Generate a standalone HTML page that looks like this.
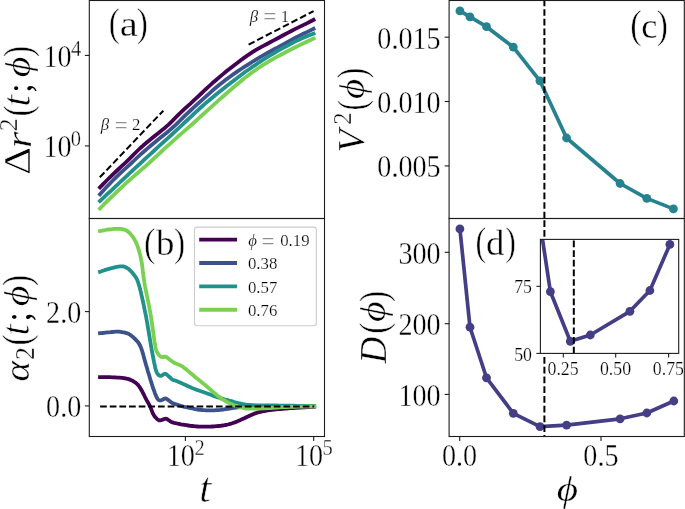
<!DOCTYPE html>
<html lang="en">
<head>
<meta charset="utf-8">
<title>Mean-squared displacement, non-Gaussian parameter, velocity variance and diffusion coefficient</title>
<style>
html,body{margin:0;padding:0;background:#fff;}
body{width:685px;height:509px;overflow:hidden;}
svg{display:block;}
svg text{font-family:"Liberation Serif","DejaVu Serif",serif;fill:#000;white-space:pre;}
svg text.b{stroke:#fff;stroke-width:0.35px;}
svg text.s{stroke:#fff;stroke-width:0.20px;}
</style>
</head>
<body>
<svg width="685" height="509" viewBox="0 0 685 509">
<rect width="685" height="509" fill="#fff"/>
<!-- panel (a): mean-squared displacement -->
<g stroke-linecap="square" stroke-linejoin="round">
<path d="M100.0,187.4 L103.6,183.6 L107.2,180.0 L110.9,176.4 L114.5,172.9 L118.1,169.5 L121.7,166.2 L125.3,162.9 L128.9,159.4 L132.6,155.7 L136.2,152.0 L139.8,148.5 L143.4,145.3 L147.0,142.3 L150.7,139.3 L154.3,136.3 L157.9,133.4 L161.5,130.6 L165.1,127.7 L168.8,124.4 L172.4,120.8 L176.0,117.2 L179.6,113.6 L183.2,110.2 L186.8,106.9 L190.5,103.6 L194.1,100.2 L197.7,96.9 L201.3,93.5 L204.9,90.0 L208.6,86.6 L212.2,83.3 L215.8,80.2 L219.4,77.1 L223.0,74.1 L226.7,71.1 L230.3,68.2 L233.9,65.4 L237.5,62.7 L241.1,60.0 L244.7,57.4 L248.4,54.8 L252.0,52.4 L255.6,50.2 L259.2,48.1 L262.8,46.1 L266.5,44.2 L270.1,42.3 L273.7,40.4 L277.3,38.5 L280.9,36.5 L284.6,34.5 L288.2,32.6 L291.8,30.7 L295.4,28.9 L299.0,27.1 L302.6,25.4 L306.3,23.6 L309.9,21.8 L313.5,19.9" fill="none" stroke="#440154" stroke-width="3.80" />
<path d="M100.0,194.3 L103.6,190.2 L107.2,186.3 L110.9,182.5 L114.5,178.8 L118.1,175.3 L121.7,171.9 L125.3,168.6 L128.9,165.4 L132.6,162.0 L136.2,158.5 L139.8,155.1 L143.4,152.0 L147.0,148.9 L150.7,145.8 L154.3,142.8 L157.9,139.7 L161.5,136.8 L165.1,133.9 L168.8,130.9 L172.4,127.8 L176.0,124.6 L179.6,121.0 L183.2,117.4 L186.8,113.9 L190.5,110.5 L194.1,107.2 L197.7,103.9 L201.3,100.7 L204.9,97.4 L208.6,94.1 L212.2,90.8 L215.8,87.7 L219.4,84.7 L223.0,81.9 L226.7,79.1 L230.3,76.5 L233.9,73.9 L237.5,71.4 L241.1,69.0 L244.7,66.6 L248.4,64.3 L252.0,62.0 L255.6,59.8 L259.2,57.7 L262.8,55.6 L266.5,53.5 L270.1,51.5 L273.7,49.5 L277.3,47.6 L280.9,45.6 L284.6,43.7 L288.2,41.7 L291.8,39.7 L295.4,37.8 L299.0,35.9 L302.6,34.1 L306.3,32.4 L309.9,30.6 L313.5,28.8" fill="none" stroke="#3b528b" stroke-width="3.80" />
<path d="M100.0,201.0 L103.6,197.6 L107.2,194.2 L110.9,190.8 L114.5,187.4 L118.1,184.1 L121.7,180.7 L125.3,177.3 L128.9,173.9 L132.6,170.5 L136.2,167.2 L139.8,163.8 L143.4,160.5 L147.0,157.2 L150.7,153.8 L154.3,150.5 L157.9,147.2 L161.5,143.9 L165.1,140.6 L168.8,137.3 L172.4,134.0 L176.0,130.7 L179.6,127.3 L183.2,123.9 L186.8,120.5 L190.5,117.1 L194.1,113.7 L197.7,110.3 L201.3,107.0 L204.9,103.8 L208.6,100.8 L212.2,97.7 L215.8,94.7 L219.4,91.8 L223.0,88.9 L226.7,86.0 L230.3,83.2 L233.9,80.4 L237.5,77.7 L241.1,75.0 L244.7,72.3 L248.4,69.8 L252.0,67.2 L255.6,64.8 L259.2,62.3 L262.8,60.0 L266.5,57.7 L270.1,55.5 L273.7,53.3 L277.3,51.2 L280.9,49.2 L284.6,47.1 L288.2,45.2 L291.8,43.2 L295.4,41.4 L299.0,39.7 L302.6,38.1 L306.3,36.5 L309.9,35.1 L313.5,33.7" fill="none" stroke="#21918c" stroke-width="3.80" />
<path d="M100.0,208.5 L103.6,204.8 L107.2,201.2 L110.9,197.7 L114.5,194.2 L118.1,190.7 L121.7,187.3 L125.3,183.9 L128.9,180.6 L132.6,177.3 L136.2,174.2 L139.8,171.1 L143.4,168.0 L147.0,164.8 L150.7,161.5 L154.3,158.2 L157.9,154.9 L161.5,151.5 L165.1,148.2 L168.8,144.8 L172.4,141.6 L176.0,138.4 L179.6,135.2 L183.2,132.1 L186.8,128.9 L190.5,125.7 L194.1,122.5 L197.7,119.2 L201.3,116.0 L204.9,112.7 L208.6,109.4 L212.2,106.2 L215.8,102.9 L219.4,99.7 L223.0,96.5 L226.7,93.3 L230.3,90.1 L233.9,87.0 L237.5,84.0 L241.1,81.0 L244.7,78.1 L248.4,75.3 L252.0,72.6 L255.6,70.0 L259.2,67.5 L262.8,65.1 L266.5,62.9 L270.1,60.7 L273.7,58.6 L277.3,56.6 L280.9,54.7 L284.6,52.8 L288.2,50.9 L291.8,49.0 L295.4,47.2 L299.0,45.4 L302.6,43.7 L306.3,42.0 L309.9,40.3 L313.5,38.6" fill="none" stroke="#7ad151" stroke-width="3.80" />
</g>
<path d="M99.8,177.3 L163.3,110.7" stroke="#000" stroke-width="2.00" fill="none" stroke-dasharray="6.7 2.95"/>
<path d="M248.6,44.6 L313.6,11.1" stroke="#000" stroke-width="2.00" fill="none" stroke-dasharray="6.7 2.95"/>
<!-- panel (b): non-Gaussian parameter -->
<g stroke-linecap="square" stroke-linejoin="round">
<path d="M100.0,377.2 L101.7,377.2 L104.0,377.2 L106.8,377.2 L109.7,377.2 L112.6,377.3 L115.1,377.4 L117.4,377.6 L119.7,377.7 L121.9,377.9 L124.0,378.2 L125.9,378.5 L127.7,378.9 L129.3,379.4 L130.7,379.9 L132.0,380.4 L133.1,381.1 L134.2,381.8 L135.3,382.5 L136.3,383.3 L137.2,384.1 L138.0,384.9 L138.7,385.9 L139.5,386.9 L140.3,388.1 L141.1,389.5 L142.0,391.0 L142.8,392.7 L143.7,394.3 L144.5,396.0 L145.3,397.6 L146.1,399.1 L146.9,400.6 L147.7,402.0 L148.5,403.4 L149.3,404.9 L150.0,406.3 L150.7,407.8 L151.3,409.4 L151.9,410.9 L152.5,412.5 L153.1,413.9 L153.8,415.1 L154.5,416.2 L155.3,417.2 L156.1,418.0 L156.8,418.8 L157.6,419.4 L158.2,419.9 L158.7,420.2 L159.2,420.4 L159.6,420.4 L160.0,420.4 L160.4,420.3 L161.0,420.2 L161.7,420.0 L162.5,419.7 L163.3,419.4 L164.2,419.0 L165.0,418.8 L165.7,418.7 L166.3,418.8 L166.9,419.0 L167.4,419.3 L167.9,419.7 L168.4,420.1 L169.0,420.4 L169.5,420.7 L169.9,421.0 L170.4,421.4 L170.9,421.7 L171.6,422.1 L172.6,422.4 L173.9,422.8 L175.4,423.1 L177.2,423.5 L179.0,423.9 L180.9,424.3 L182.7,424.6 L184.5,424.9 L186.4,425.2 L188.3,425.5 L190.3,425.8 L192.2,426.0 L194.0,426.2 L195.7,426.4 L197.4,426.5 L199.0,426.6 L200.6,426.6 L202.3,426.7 L204.1,426.7 L206.1,426.7 L208.1,426.7 L210.3,426.6 L212.4,426.5 L214.6,426.4 L216.6,426.2 L218.6,426.0 L220.6,425.8 L222.6,425.5 L224.5,425.2 L226.3,424.8 L228.0,424.5 L229.5,424.1 L231.0,423.7 L232.3,423.3 L233.6,422.8 L234.8,422.4 L236.0,421.9 L237.1,421.5 L238.1,421.1 L239.0,420.6 L240.0,420.2 L241.2,419.6 L242.6,419.0 L244.3,418.2 L246.3,417.2 L248.5,416.2 L250.7,415.2 L252.9,414.2 L255.1,413.4 L257.2,412.7 L259.3,412.1 L261.4,411.6 L263.5,411.2 L265.6,410.8 L267.7,410.4 L269.8,410.1 L271.9,409.8 L274.0,409.6 L276.1,409.4 L278.2,409.2 L280.3,409.0 L282.3,408.8 L284.2,408.6 L286.1,408.5 L288.1,408.3 L290.3,408.2 L292.9,408.0 L296.2,407.8 L300.1,407.6 L304.3,407.3 L308.4,407.1 L311.8,406.9 L314.2,406.8" fill="none" stroke="#440154" stroke-width="3.80" />
<path d="M100.0,333.2 L101.0,333.1 L102.3,333.0 L103.8,332.8 L105.5,332.6 L107.2,332.4 L108.9,332.3 L110.5,332.2 L112.2,332.0 L113.9,331.8 L115.6,331.7 L117.3,331.7 L118.9,331.7 L120.5,331.8 L122.0,332.1 L123.5,332.3 L125.0,332.7 L126.4,333.1 L127.7,333.6 L128.9,334.1 L130.0,334.7 L131.0,335.4 L132.0,336.2 L133.0,337.0 L134.0,338.0 L135.1,339.0 L136.1,340.1 L137.2,341.3 L138.3,342.6 L139.3,344.1 L140.3,346.0 L141.2,348.2 L142.1,350.8 L142.9,353.6 L143.7,356.5 L144.5,359.5 L145.3,362.3 L146.1,365.1 L147.0,368.0 L147.8,371.0 L148.7,373.8 L149.5,376.5 L150.2,379.0 L150.9,381.2 L151.5,383.2 L152.1,385.0 L152.6,386.7 L153.2,388.4 L153.8,390.0 L154.4,391.7 L155.0,393.4 L155.7,395.0 L156.3,396.5 L156.9,397.8 L157.5,398.8 L158.0,399.5 L158.5,400.0 L159.0,400.2 L159.5,400.3 L160.1,400.3 L160.7,400.3 L161.4,400.1 L162.2,399.8 L163.1,399.4 L163.9,398.9 L164.8,398.6 L165.5,398.5 L166.2,398.6 L166.8,398.9 L167.3,399.3 L167.9,399.7 L168.4,400.2 L169.0,400.6 L169.6,401.0 L170.2,401.5 L170.8,402.0 L171.4,402.4 L172.0,402.8 L172.6,403.2 L173.1,403.5 L173.6,403.6 L174.1,403.8 L174.6,403.9 L175.2,404.1 L176.0,404.3 L176.9,404.6 L177.8,404.9 L178.9,405.3 L180.0,405.6 L181.3,406.0 L182.7,406.4 L184.4,406.8 L186.3,407.2 L188.4,407.7 L190.4,408.1 L192.4,408.5 L194.0,408.8 L195.3,409.1 L196.4,409.3 L197.3,409.5 L198.2,409.6 L199.2,409.8 L200.3,409.9 L201.6,410.0 L203.0,410.1 L204.4,410.2 L205.9,410.3 L207.5,410.4 L209.1,410.4 L210.8,410.4 L212.5,410.4 L214.3,410.3 L216.2,410.2 L218.2,410.1 L220.4,409.9 L222.8,409.6 L225.3,409.2 L228.0,408.8 L230.8,408.4 L233.4,407.9 L236.0,407.6 L238.4,407.3 L240.6,407.1 L242.7,406.8 L244.9,406.6 L247.3,406.4 L250.0,406.3 L252.7,406.2 L255.3,406.1 L258.1,406.1 L261.3,406.0 L265.2,406.0 L270.0,406.0 L276.5,406.0 L284.6,406.0 L293.4,406.1 L301.8,406.1 L309.1,406.2 L314.2,406.2" fill="none" stroke="#3b528b" stroke-width="3.80" />
<path d="M100.0,271.8 L100.9,271.5 L102.2,271.0 L103.7,270.5 L105.4,269.9 L107.2,269.4 L108.9,268.9 L110.7,268.4 L112.7,267.9 L114.7,267.4 L116.7,266.9 L118.6,266.6 L120.2,266.4 L121.5,266.3 L122.7,266.4 L123.7,266.5 L124.6,266.8 L125.5,267.2 L126.5,267.7 L127.6,268.3 L128.6,269.1 L129.7,270.0 L130.8,271.0 L131.8,272.1 L132.8,273.3 L133.7,274.5 L134.6,275.6 L135.5,276.8 L136.3,278.2 L137.2,279.9 L138.0,282.0 L138.8,284.6 L139.7,287.5 L140.5,290.8 L141.3,294.2 L142.1,297.6 L142.8,300.9 L143.5,304.0 L144.1,307.0 L144.7,310.0 L145.3,313.0 L146.0,316.2 L146.6,319.7 L147.3,323.5 L148.0,327.6 L148.7,331.9 L149.4,336.1 L150.1,340.2 L150.7,344.0 L151.3,347.5 L151.9,350.9 L152.5,354.1 L153.1,357.1 L153.6,359.8 L154.1,362.3 L154.6,364.5 L155.0,366.4 L155.3,368.1 L155.7,369.5 L156.1,370.8 L156.6,372.0 L157.1,373.1 L157.7,374.0 L158.3,374.7 L158.9,375.3 L159.6,375.7 L160.3,375.9 L161.1,375.8 L161.9,375.5 L162.7,374.9 L163.6,374.3 L164.4,373.9 L165.2,373.8 L165.9,374.0 L166.6,374.4 L167.3,375.0 L167.9,375.6 L168.6,376.2 L169.2,376.8 L169.8,377.3 L170.4,377.8 L170.9,378.4 L171.5,378.9 L172.0,379.3 L172.6,379.7 L173.1,380.0 L173.6,380.1 L174.1,380.2 L174.6,380.4 L175.2,380.5 L176.0,380.8 L176.9,381.2 L177.8,381.6 L178.9,382.0 L180.0,382.5 L181.3,383.1 L182.7,383.7 L184.3,384.4 L186.1,385.3 L188.0,386.2 L190.0,387.1 L192.0,388.0 L194.0,388.8 L196.0,389.6 L198.1,390.3 L200.2,391.0 L202.4,391.7 L204.5,392.5 L206.6,393.2 L208.7,394.0 L210.9,394.8 L213.0,395.6 L215.1,396.4 L217.2,397.1 L219.2,397.8 L221.1,398.4 L223.0,398.9 L224.9,399.5 L226.7,399.9 L228.4,400.4 L230.0,400.8 L231.5,401.2 L232.9,401.6 L234.2,402.0 L235.4,402.3 L236.7,402.7 L238.0,403.0 L239.3,403.3 L240.6,403.6 L241.9,403.9 L243.2,404.2 L244.6,404.4 L246.0,404.6 L247.4,404.8 L248.7,404.9 L250.0,405.0 L251.6,405.1 L253.5,405.2 L256.0,405.3 L259.1,405.4 L262.6,405.4 L266.5,405.5 L270.7,405.5 L275.2,405.5 L280.0,405.6 L285.5,405.7 L291.9,405.7 L298.6,405.8 L305.0,405.9 L310.4,406.0 L314.2,406.0" fill="none" stroke="#21918c" stroke-width="3.80" />
<path d="M100.0,231.0 L101.0,230.8 L102.3,230.6 L103.8,230.3 L105.5,230.0 L107.2,229.7 L108.9,229.5 L110.5,229.3 L112.2,229.1 L114.0,228.9 L115.7,228.8 L117.4,228.8 L118.9,228.8 L120.3,228.9 L121.7,229.0 L122.9,229.3 L124.2,229.6 L125.3,230.0 L126.5,230.6 L127.6,231.3 L128.7,232.2 L129.8,233.2 L130.8,234.4 L131.8,235.6 L132.8,236.9 L133.7,238.3 L134.6,239.8 L135.5,241.4 L136.3,243.1 L137.1,244.9 L137.8,246.9 L138.5,249.1 L139.2,251.4 L139.8,253.8 L140.5,256.4 L141.0,259.1 L141.6,262.0 L142.1,264.9 L142.5,267.9 L142.8,271.0 L143.2,274.3 L143.7,278.0 L144.3,282.0 L145.1,286.6 L146.1,291.6 L147.2,296.9 L148.3,302.4 L149.4,308.0 L150.4,313.4 L151.3,319.1 L152.2,325.1 L153.1,331.2 L153.9,337.0 L154.6,342.0 L155.3,346.0 L155.8,348.7 L156.2,350.4 L156.6,351.4 L156.9,352.0 L157.2,352.5 L157.7,353.2 L158.2,354.1 L158.9,354.9 L159.5,355.6 L160.2,356.2 L160.8,356.6 L161.5,357.0 L162.2,357.2 L162.9,357.1 L163.6,356.9 L164.3,356.7 L164.9,356.6 L165.6,356.7 L166.2,357.0 L166.8,357.3 L167.4,357.8 L168.0,358.3 L168.6,358.8 L169.2,359.2 L169.8,359.6 L170.3,360.1 L170.9,360.5 L171.5,360.9 L172.0,361.3 L172.6,361.7 L173.1,362.0 L173.6,362.3 L174.1,362.6 L174.6,362.9 L175.2,363.2 L176.0,363.6 L176.9,364.0 L177.8,364.3 L178.9,364.7 L180.0,365.2 L181.3,365.8 L182.7,366.7 L184.3,367.9 L186.1,369.3 L188.0,370.9 L190.0,372.6 L192.0,374.3 L194.0,376.0 L196.0,377.7 L198.1,379.3 L200.2,381.1 L202.4,382.8 L204.5,384.6 L206.6,386.3 L208.7,388.1 L210.9,390.0 L213.1,391.9 L215.3,393.7 L217.3,395.4 L219.2,396.9 L220.9,398.1 L222.4,399.2 L223.9,400.1 L225.3,400.9 L226.6,401.7 L228.0,402.4 L229.4,403.1 L230.7,403.8 L232.0,404.3 L233.3,404.9 L234.6,405.4 L236.0,405.9 L237.4,406.4 L238.9,406.9 L240.4,407.3 L241.9,407.7 L243.4,408.0 L245.0,408.3 L246.6,408.5 L248.1,408.6 L249.6,408.7 L251.3,408.7 L253.0,408.7 L255.0,408.7 L257.2,408.7 L259.4,408.6 L261.9,408.4 L264.4,408.3 L267.2,408.2 L270.0,408.0 L273.0,407.8 L276.1,407.6 L279.4,407.4 L282.8,407.2 L286.4,407.1 L290.0,406.9 L294.1,406.8 L298.7,406.7 L303.4,406.6 L307.8,406.5 L311.5,406.4 L314.2,406.4" fill="none" stroke="#7ad151" stroke-width="3.80" />
</g>
<path d="M100.1,406.4 L314.2,406.4" stroke="#000" stroke-width="2.00" fill="none" stroke-dasharray="6.7 2.95"/>
<!-- panel (c) -->
<g>
<path d="M459.9,10.9 L470.0,16.9 L486.5,26.7 L513.3,47.1 L539.9,80.8 L566.6,138.0 L620.1,183.5 L646.8,198.4 L673.4,208.9" fill="none" stroke="#26828e" stroke-width="3.70" stroke-linejoin="round" stroke-linecap="round"/>
<circle cx="459.9" cy="10.9" r="4.4" fill="#26828e"/>
<circle cx="470.0" cy="16.9" r="4.4" fill="#26828e"/>
<circle cx="486.5" cy="26.7" r="4.4" fill="#26828e"/>
<circle cx="513.3" cy="47.1" r="4.4" fill="#26828e"/>
<circle cx="539.9" cy="80.8" r="4.4" fill="#26828e"/>
<circle cx="566.6" cy="138.0" r="4.4" fill="#26828e"/>
<circle cx="620.1" cy="183.5" r="4.4" fill="#26828e"/>
<circle cx="646.8" cy="198.4" r="4.4" fill="#26828e"/>
<circle cx="673.4" cy="208.9" r="4.4" fill="#26828e"/>
</g>
<!-- panel (d) -->
<g>
<path d="M459.9,228.9 L470.0,327.2 L486.5,377.8 L513.3,413.3 L540.0,426.6 L566.6,425.1 L620.1,418.8 L646.8,413.0 L673.8,401.0" fill="none" stroke="#433e85" stroke-width="3.70" stroke-linejoin="round" stroke-linecap="round"/>
<circle cx="459.9" cy="228.9" r="4.4" fill="#433e85"/>
<circle cx="470.0" cy="327.2" r="4.4" fill="#433e85"/>
<circle cx="486.5" cy="377.8" r="4.4" fill="#433e85"/>
<circle cx="513.3" cy="413.3" r="4.4" fill="#433e85"/>
<circle cx="540.0" cy="426.6" r="4.4" fill="#433e85"/>
<circle cx="566.6" cy="425.1" r="4.4" fill="#433e85"/>
<circle cx="620.1" cy="418.8" r="4.4" fill="#433e85"/>
<circle cx="646.8" cy="413.0" r="4.4" fill="#433e85"/>
<circle cx="673.8" cy="401.0" r="4.4" fill="#433e85"/>
</g>
<path d="M544.4,218.5 L544.4,0.5" stroke="#000" stroke-width="2.00" fill="none" stroke-dasharray="6.7 2.95"/>
<path d="M544.4,436.5 L544.4,218.5" stroke="#000" stroke-width="2.00" fill="none" stroke-dasharray="6.8 2.97" stroke-dashoffset="5.37"/>
<!-- inset of (d) -->
<rect x="540.4" y="239.4" width="138.3" height="114.0" fill="#fff"/>
<clipPath id="ic"><rect x="540.4" y="239.4" width="138.3" height="114.0"/></clipPath>
<g clip-path="url(#ic)">
<path d="M529.6,153.6 L550.4,291.7 L570.3,341.3 L590.3,335.0 L629.9,311.3 L649.9,290.5 L669.9,244.4" fill="none" stroke="#433e85" stroke-width="3.70" stroke-linejoin="round" stroke-linecap="round"/>
<circle cx="550.4" cy="291.7" r="4.4" fill="#433e85"/>
<circle cx="570.3" cy="341.3" r="4.4" fill="#433e85"/>
<circle cx="590.3" cy="335.0" r="4.4" fill="#433e85"/>
<circle cx="629.9" cy="311.3" r="4.4" fill="#433e85"/>
<circle cx="649.9" cy="290.5" r="4.4" fill="#433e85"/>
<circle cx="669.9" cy="244.4" r="4.4" fill="#433e85"/>
<path d="M573.8,353.4 L573.8,239.4" stroke="#000" stroke-width="2.00" fill="none" stroke-dasharray="6.7 2.95"/>
</g>
<rect x="540.4" y="239.4" width="138.3" height="114.0" fill="none" stroke="#1c1c1c" stroke-width="1.10"/>
<!-- legend -->
<rect x="194.5" y="227.1" width="121.8" height="98.6" rx="2.6" fill="#fff" fill-opacity="0.8" stroke="#ccc" stroke-width="1.1"/>
<path d="M199.2,239.65 L237.0,239.65" stroke="#440154" stroke-width="3.8" fill="none"/>
<text class="s" y="246.00" font-size="16.8"><tspan x="248.21" font-style="italic">ϕ</tspan><tspan> </tspan><tspan x="261.32" dy="2.93" font-size="24.0" stroke="#fff" stroke-width="0.7">=</tspan><tspan dy="-2.93" font-size="16.8"> </tspan><tspan x="280.16">0.19</tspan></text>
<path d="M199.2,263.02 L237.0,263.02" stroke="#3b528b" stroke-width="3.8" fill="none"/>
<text class="s" x="247.96" y="269.37" font-size="16.8">0.38</text>
<path d="M199.2,286.39 L237.0,286.39" stroke="#21918c" stroke-width="3.8" fill="none"/>
<text class="s" x="247.96" y="292.74" font-size="16.8">0.57</text>
<path d="M199.2,309.76 L237.0,309.76" stroke="#7ad151" stroke-width="3.8" fill="none"/>
<text class="s" x="247.96" y="316.11" font-size="16.8">0.76</text>
<!-- axes frames and ticks -->
<rect x="89.3" y="0.5" width="235.2" height="218.0" fill="none" stroke="#1c1c1c" stroke-width="1.10"/>
<rect x="89.3" y="218.5" width="235.2" height="218.0" fill="none" stroke="#1c1c1c" stroke-width="1.10"/>
<rect x="449.1" y="0.5" width="235.2" height="218.0" fill="none" stroke="#1c1c1c" stroke-width="1.10"/>
<rect x="449.1" y="218.5" width="235.2" height="218.0" fill="none" stroke="#1c1c1c" stroke-width="1.10"/>
<path d="M89.3,55.4 h-4.4" stroke="#1c1c1c" stroke-width="1.10" fill="none"/>
<path d="M89.3,145.9 h-4.4" stroke="#1c1c1c" stroke-width="1.10" fill="none"/>
<text class="b" transform="translate(43.43,66.70) scale(0.920,1)" font-size="30.6">10<tspan x="30.08" dy="-11.00" font-size="22.3">4</tspan></text>
<text class="b" transform="translate(43.43,157.20) scale(0.920,1)" font-size="30.6">10<tspan x="29.67" dy="-11.00" font-size="22.3">0</tspan></text>
<path d="M89.3,311.6 h-4.4" stroke="#1c1c1c" stroke-width="1.10" fill="none"/>
<path d="M89.3,405.9 h-4.4" stroke="#1c1c1c" stroke-width="1.10" fill="none"/>
<text class="b" transform="translate(46.08,322.70) scale(0.920,1)" font-size="30.6">2.0</text>
<text class="b" transform="translate(46.08,417.00) scale(0.920,1)" font-size="30.6">0.0</text>
<path d="M185.4,436.5 v4.4" stroke="#1c1c1c" stroke-width="1.10" fill="none"/>
<path d="M313.7,436.5 v4.4" stroke="#1c1c1c" stroke-width="1.10" fill="none"/>
<text class="b" transform="translate(166.63,466.20) scale(0.920,1)" font-size="30.6">10<tspan x="30.19" dy="-11.00" font-size="22.3">2</tspan></text>
<text class="b" transform="translate(294.93,466.20) scale(0.920,1)" font-size="30.6">10<tspan x="29.87" dy="-11.00" font-size="22.3">5</tspan></text>
<path d="M449.1,37.2 h-4.4" stroke="#1c1c1c" stroke-width="1.10" fill="none"/>
<text class="b" transform="translate(377.36,48.60) scale(0.920,1)" font-size="30.6">0.015</text>
<path d="M449.1,101.5 h-4.4" stroke="#1c1c1c" stroke-width="1.10" fill="none"/>
<text class="b" transform="translate(377.33,112.90) scale(0.920,1)" font-size="30.6">0.010</text>
<path d="M449.1,165.9 h-4.4" stroke="#1c1c1c" stroke-width="1.10" fill="none"/>
<text class="b" transform="translate(377.36,177.30) scale(0.920,1)" font-size="30.6">0.005</text>
<path d="M449.1,252.3 h-4.4" stroke="#1c1c1c" stroke-width="1.10" fill="none"/>
<text class="b" transform="translate(398.44,263.70) scale(0.920,1)" font-size="30.6">300</text>
<path d="M449.1,323.7 h-4.4" stroke="#1c1c1c" stroke-width="1.10" fill="none"/>
<text class="b" transform="translate(398.44,335.10) scale(0.920,1)" font-size="30.6">200</text>
<path d="M449.1,394.4 h-4.4" stroke="#1c1c1c" stroke-width="1.10" fill="none"/>
<text class="b" transform="translate(398.44,405.80) scale(0.920,1)" font-size="30.6">100</text>
<path d="M459.7,436.5 v4.4" stroke="#1c1c1c" stroke-width="1.10" fill="none"/>
<text class="b" transform="translate(442.00,466.20) scale(0.920,1)" font-size="30.6">0.0</text>
<path d="M601.0,436.5 v4.4" stroke="#1c1c1c" stroke-width="1.10" fill="none"/>
<text class="b" transform="translate(583.32,466.20) scale(0.920,1)" font-size="30.6">0.5</text>
<path d="M563.3,353.4 v4.0" stroke="#1c1c1c" stroke-width="1.10" fill="none"/>
<text class="s" x="547.53" y="374.50" font-size="17.8">0.25</text>
<path d="M615.7,353.4 v4.0" stroke="#1c1c1c" stroke-width="1.10" fill="none"/>
<text class="s" x="599.92" y="374.50" font-size="17.8">0.50</text>
<path d="M668.6,353.4 v4.0" stroke="#1c1c1c" stroke-width="1.10" fill="none"/>
<text class="s" x="652.83" y="374.50" font-size="17.8">0.75</text>
<path d="M540.4,286.3 h-4.0" stroke="#1c1c1c" stroke-width="1.10" fill="none"/>
<text class="s" x="514.19" y="293.40" font-size="17.8">75</text>
<path d="M540.4,353.4 h-4.0" stroke="#1c1c1c" stroke-width="1.10" fill="none"/>
<text class="s" x="514.17" y="360.50" font-size="17.8">50</text>
<!-- annotations -->
<text class="s" y="130.00" font-size="16.8" fill="#262626"><tspan x="100.67" font-style="italic">β</tspan><tspan> </tspan><tspan x="114.42" dy="2.93" font-size="24.0" stroke="#fff" stroke-width="0.7">=</tspan><tspan dy="-2.93" font-size="16.8"> </tspan><tspan x="131.96">2</tspan></text>
<text class="s" y="21.50" font-size="16.8" fill="#262626"><tspan x="249.67" font-style="italic">β</tspan><tspan> </tspan><tspan x="263.12" dy="2.93" font-size="24.0" stroke="#fff" stroke-width="0.7">=</tspan><tspan dy="-2.93" font-size="16.8"> </tspan><tspan x="280.72">1</tspan></text>
<!-- panel labels -->
<text class="b"><tspan x="108.63" y="36.06" font-size="40.59" textLength="11.15" lengthAdjust="spacingAndGlyphs" stroke="#fff" stroke-width="0.55">(</tspan><tspan x="119.67" y="35.85" font-size="36.12" textLength="18.09" lengthAdjust="spacingAndGlyphs">a</tspan><tspan x="136.82" y="36.06" font-size="40.59" textLength="11.15" lengthAdjust="spacingAndGlyphs" stroke="#fff" stroke-width="0.55">)</tspan></text>
<text class="b"><tspan x="143.99" y="256.26" font-size="40.59" textLength="11.41" lengthAdjust="spacingAndGlyphs" stroke="#fff" stroke-width="0.55">(</tspan><tspan x="156.10" y="255.34" font-size="36.81" textLength="18.40" lengthAdjust="spacingAndGlyphs">b</tspan><tspan x="174.02" y="256.26" font-size="40.59" textLength="11.15" lengthAdjust="spacingAndGlyphs" stroke="#fff" stroke-width="0.55">)</tspan></text>
<text class="b"><tspan x="630.29" y="38.26" font-size="40.59" textLength="11.41" lengthAdjust="spacingAndGlyphs" stroke="#fff" stroke-width="0.55">(</tspan><tspan x="641.32" y="37.75" font-size="35.76" textLength="16.10" lengthAdjust="spacingAndGlyphs">c</tspan><tspan x="656.82" y="38.26" font-size="40.59" textLength="11.15" lengthAdjust="spacingAndGlyphs" stroke="#fff" stroke-width="0.55">)</tspan></text>
<text class="b"><tspan x="475.40" y="255.36" font-size="40.59" textLength="10.63" lengthAdjust="spacingAndGlyphs" stroke="#fff" stroke-width="0.55">(</tspan><tspan x="486.07" y="254.84" font-size="36.67" textLength="18.38" lengthAdjust="spacingAndGlyphs">d</tspan><tspan x="505.37" y="255.36" font-size="40.59" textLength="10.63" lengthAdjust="spacingAndGlyphs" stroke="#fff" stroke-width="0.55">)</tspan></text>
<!-- axis labels -->
<text class="b"><tspan x="199.04" y="501.60" font-size="41.20" textLength="12.36" lengthAdjust="spacingAndGlyphs" font-style="italic" stroke="#fff" stroke-width="0.70">t</tspan></text>
<text class="b"><tspan x="556.66" y="500.85" font-size="36.39" textLength="21.31" lengthAdjust="spacingAndGlyphs" font-style="italic">ϕ</tspan></text>
<text class="b" transform="translate(30.10,0) rotate(-90)"><tspan x="-175.07" y="-0.00" font-size="38.32" textLength="28.22" lengthAdjust="spacingAndGlyphs" stroke="#fff" stroke-width="0.60">Δ</tspan><tspan x="-148.09" y="0.50" font-size="36.08" textLength="16.27" lengthAdjust="spacingAndGlyphs" font-style="italic">r</tspan><tspan x="-131.23" y="-13.20" font-size="25.07" textLength="12.85" lengthAdjust="spacingAndGlyphs">2</tspan><tspan x="-116.57" y="0.45" font-size="39.70" textLength="11.15" lengthAdjust="spacingAndGlyphs" stroke="#fff" stroke-width="0.55">(</tspan><tspan x="-106.96" y="0.11" font-size="39.63" textLength="12.36" lengthAdjust="spacingAndGlyphs" font-style="italic" stroke="#fff" stroke-width="0.70">t</tspan><tspan x="-92.63" y="1.12" font-size="36.27" textLength="9.30" lengthAdjust="spacingAndGlyphs" stroke="none">;</tspan><tspan x="-77.21" y="-0.51" font-size="35.73" textLength="20.54" lengthAdjust="spacingAndGlyphs" font-style="italic">ϕ</tspan><tspan x="-57.08" y="0.45" font-size="39.70" textLength="11.15" lengthAdjust="spacingAndGlyphs" stroke="#fff" stroke-width="0.55">)</tspan></text>
<text class="b" transform="translate(29.10,0) rotate(-90)"><tspan x="-381.56" y="-0.16" font-size="35.27" textLength="20.52" lengthAdjust="spacingAndGlyphs" font-style="italic">α</tspan><tspan x="-359.94" y="5.00" font-size="26.28" textLength="12.97" lengthAdjust="spacingAndGlyphs">2</tspan><tspan x="-345.57" y="0.45" font-size="40.14" textLength="11.15" lengthAdjust="spacingAndGlyphs" stroke="#fff" stroke-width="0.55">(</tspan><tspan x="-335.87" y="-0.20" font-size="40.51" textLength="11.82" lengthAdjust="spacingAndGlyphs" font-style="italic" stroke="#fff" stroke-width="0.70">t</tspan><tspan x="-321.53" y="1.12" font-size="36.92" textLength="9.30" lengthAdjust="spacingAndGlyphs" stroke="none">;</tspan><tspan x="-306.22" y="-0.41" font-size="35.73" textLength="20.65" lengthAdjust="spacingAndGlyphs" font-style="italic">ϕ</tspan><tspan x="-286.08" y="0.45" font-size="40.14" textLength="11.15" lengthAdjust="spacingAndGlyphs" stroke="#fff" stroke-width="0.55">)</tspan></text>
<text class="b" transform="translate(364.40,0) rotate(-90)"><tspan x="-152.55" y="-0.28" font-size="38.51" textLength="22.86" lengthAdjust="spacingAndGlyphs" font-style="italic">V</tspan><tspan x="-124.80" y="-13.00" font-size="24.92" textLength="12.47" lengthAdjust="spacingAndGlyphs">2</tspan><tspan x="-110.49" y="0.15" font-size="40.14" textLength="10.50" lengthAdjust="spacingAndGlyphs" stroke="#fff" stroke-width="0.55">(</tspan><tspan x="-98.99" y="-0.71" font-size="35.73" textLength="20.10" lengthAdjust="spacingAndGlyphs" font-style="italic">ϕ</tspan><tspan x="-78.32" y="0.15" font-size="40.14" textLength="10.50" lengthAdjust="spacingAndGlyphs" stroke="#fff" stroke-width="0.55">)</tspan></text>
<text class="b" transform="translate(386.20,0) rotate(-90)"><tspan x="-363.58" y="-0.18" font-size="38.68" textLength="26.85" lengthAdjust="spacingAndGlyphs" font-style="italic">D</tspan><tspan x="-333.67" y="0.46" font-size="40.59" textLength="11.15" lengthAdjust="spacingAndGlyphs" stroke="#fff" stroke-width="0.55">(</tspan><tspan x="-322.12" y="-0.71" font-size="35.73" textLength="20.65" lengthAdjust="spacingAndGlyphs" font-style="italic">ϕ</tspan><tspan x="-301.98" y="0.46" font-size="40.59" textLength="11.15" lengthAdjust="spacingAndGlyphs" stroke="#fff" stroke-width="0.55">)</tspan></text>
</svg>
</body>
</html>
